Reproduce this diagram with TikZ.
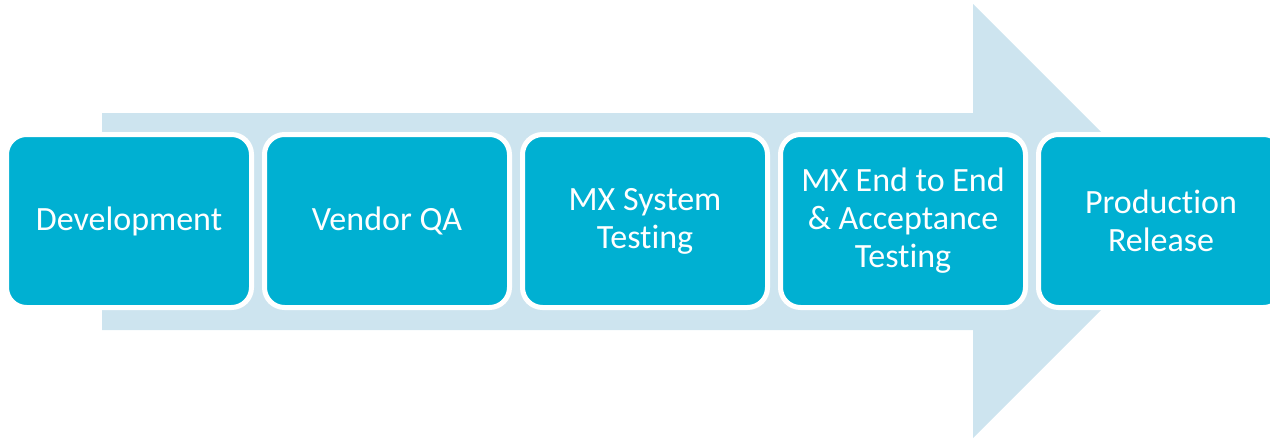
\documentclass[tikz,border=0pt]{standalone}
\usepackage{fontspec}
\setmainfont[Ligatures=NoCommon]{Carlito}
\usepackage{tikz}
\usetikzlibrary{positioning}

\definecolor{stageblue}{RGB}{0,176,210}
\definecolor{flowblue}{RGB}{205,228,239}

\begin{document}
\begin{tikzpicture}[
    x=1pt, y=-1pt,
    node distance=13pt,
    stage/.style={rectangle, rounded corners=20pt, draw=white, fill=stageblue, line width=5pt, minimum width=245pt, minimum height=173pt, inner sep=0pt, outer sep=0pt, text=white, align=center, font=\fontsize{34}{38}\selectfont},
    flow/.style={fill=flowblue}
]
\useasboundingbox (0,0) rectangle (1270,439);

% Background arrow
\fill[flow] (102,113) -- (973,113) -- (973,4) -- (1190,221) -- (973,438) -- (973,330) -- (102,330) -- cycle;

% Nodes
\node[stage] (dev) at (129,221) {Development};
\node[stage, right=of dev] (vendorqa) {Vendor QA};
\node[stage, right=of vendorqa] (systest) {MX System\\Testing};
\node[stage, right=of systest] (e2e) {MX End to End\\\& Acceptance\\Testing};
\node[stage, right=of e2e] (release) {Production\\Release};

\end{tikzpicture}
\end{document}
